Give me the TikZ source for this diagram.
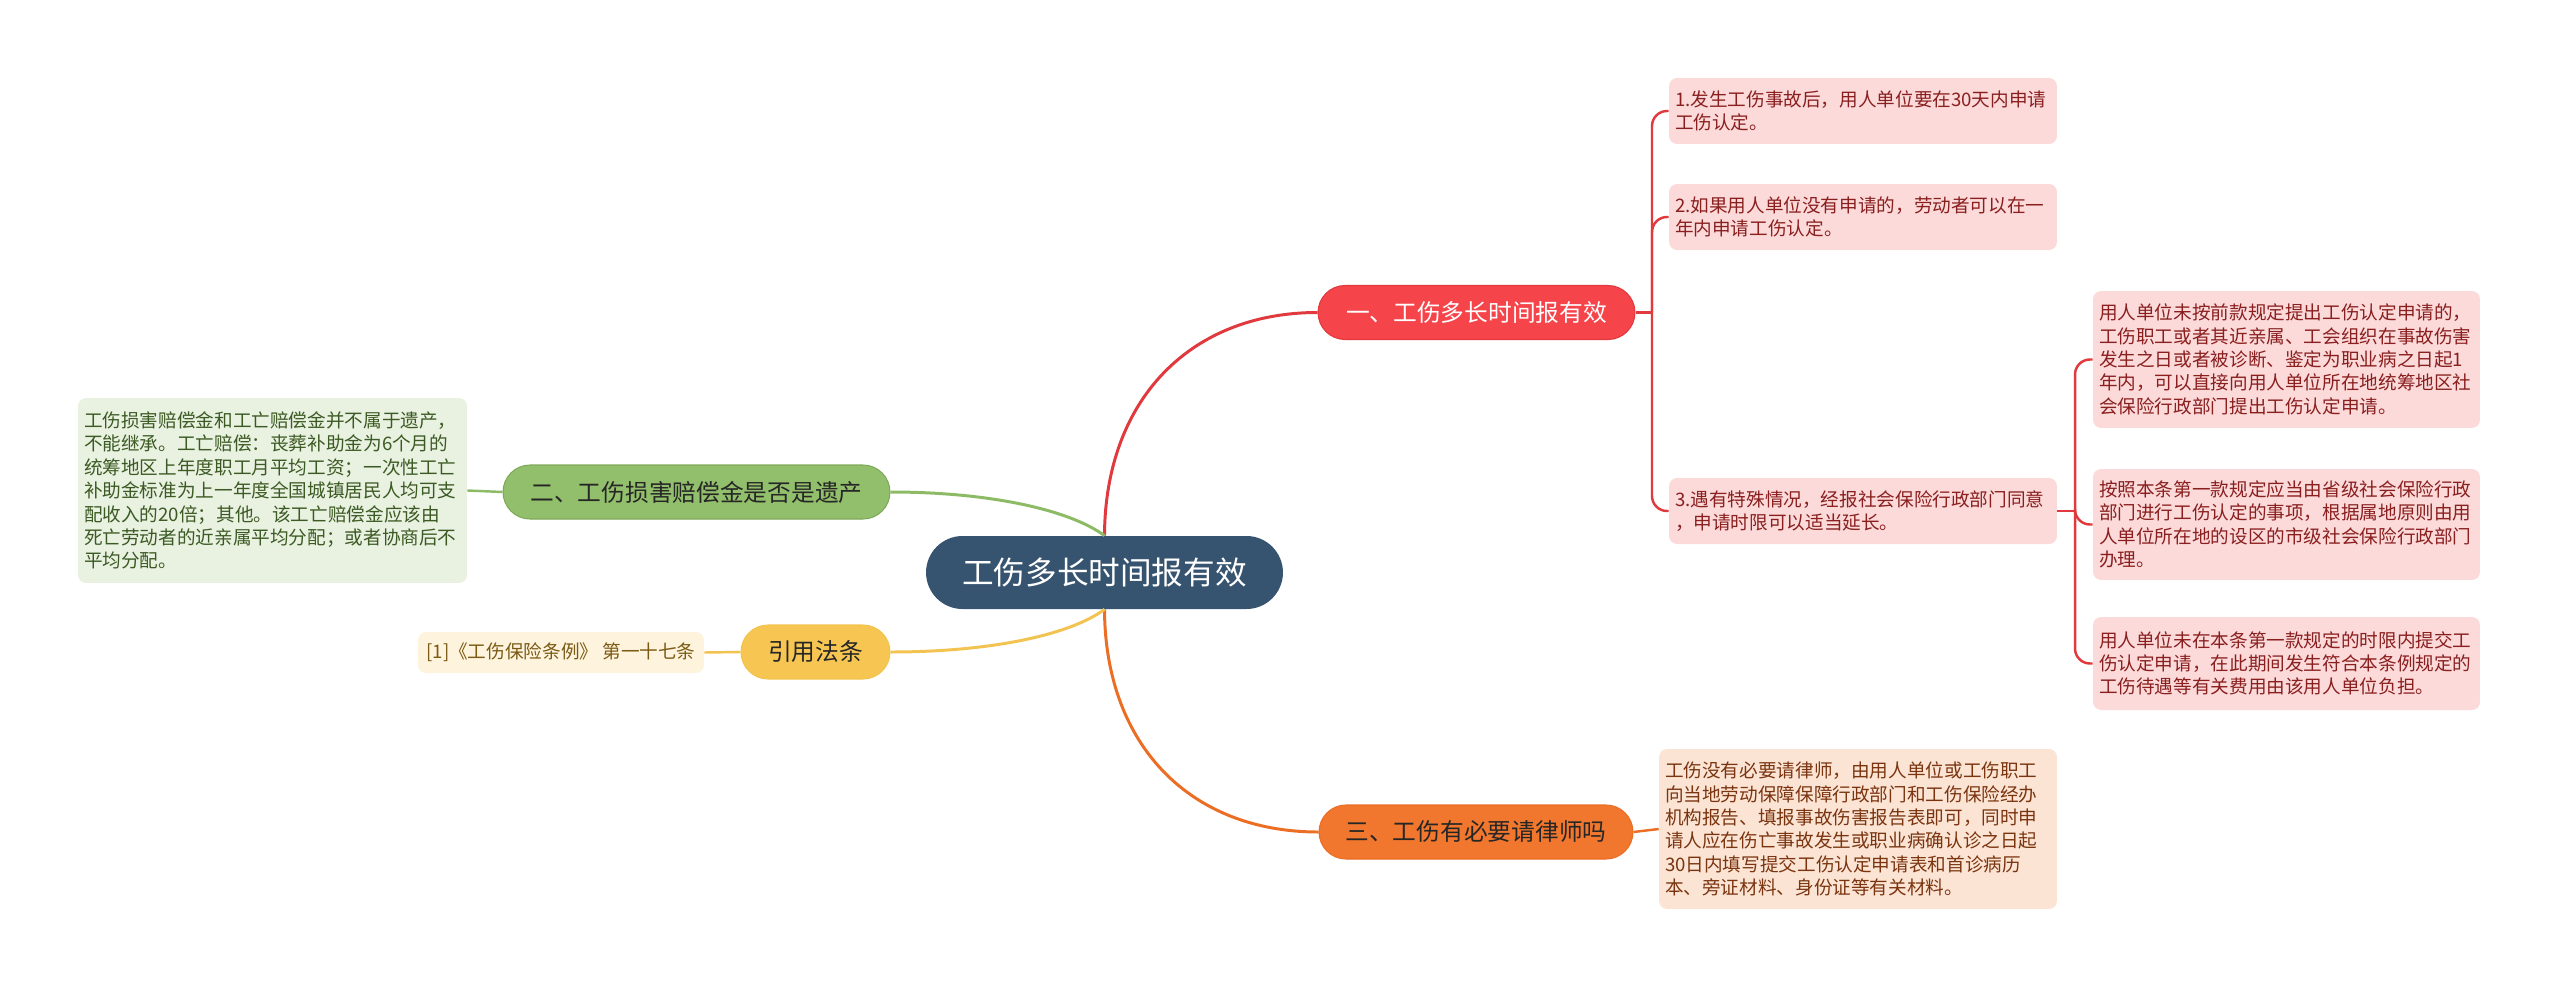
\documentclass[tikz,border=0pt]{standalone}
\usepackage{fontspec}
\setmainfont{Noto Sans CJK SC}
\usetikzlibrary{positioning}
\definecolor{rootSlate}{HTML}{36536F}
\definecolor{redMain}{HTML}{F5444A}
\definecolor{redLine}{HTML}{E0393E}
\definecolor{redLeaf}{HTML}{FCDADA}
\definecolor{redText}{HTML}{8A1F1F}
\definecolor{greenMain}{HTML}{92BF6B}
\definecolor{greenLine}{HTML}{8DBB65}
\definecolor{greenLeaf}{HTML}{E9F1E1}
\definecolor{greenText}{HTML}{3C5A23}
\definecolor{yellowMain}{HTML}{F7C652}
\definecolor{yellowLine}{HTML}{F2C350}
\definecolor{yellowLeaf}{HTML}{FEF3DC}
\definecolor{yellowText}{HTML}{7A5A14}
\definecolor{orangeMain}{HTML}{F0772D}
\definecolor{orangeLine}{HTML}{EB6E24}
\definecolor{orangeLeaf}{HTML}{FCE4D4}
\definecolor{orangeText}{HTML}{7A3510}
\tikzset{
  topic/.style={rounded corners=0.54cm, minimum height=1.08cm, inner sep=0pt,
                line width=0.6pt, font=\fontsize{13.5}{16}\selectfont},
  leaf/.style={rounded corners=0.16cm, inner xsep=0.12cm, inner ysep=0pt,
               align=left, font=\fontsize{10.6}{13.3}\selectfont},
  branch/.style={line width=1.7pt},
  twig/.style={line width=1.4pt}
}

\begin{document}
\begin{tikzpicture}[x=0.02cm, y=-0.02cm]
  \useasboundingbox (0,0) rectangle (2560,991);

  \node[fill=rootSlate, text=white, rounded corners=0.73cm, minimum width=7.14cm,
        minimum height=1.46cm, inner sep=0pt, font=\fontsize{18}{22}\selectfont]
        (root) at (1104.5,572.5) {工伤多长时间报有效};

  \node[topic, fill=redMain, draw=redLine, text=white, minimum width=6.34cm]
        (t1) at (1476.5,312.5) {一、工伤多长时间报有效};
  \node[topic, fill=greenMain, draw=greenLine!90!black, text=black!85, minimum width=7.74cm]
        (t2) at (696.5,492) {二、工伤损害赔偿金是否是遗产};
  \node[topic, fill=yellowMain, draw=yellowLine, text=black!85, minimum width=2.98cm]
        (t4) at (815.5,652) {引用法条};
  \node[topic, fill=orangeMain, draw=orangeLine, text=black!85, minimum width=6.28cm]
        (t3) at (1476,832) {三、工伤有必要请律师吗};

  \node[leaf, fill=redLeaf, text=redText, text width=7.52cm, minimum height=1.32cm]
        (l1) at (1863,111) {1.发生工伤事故后，用人单位要在30天内申请\\工伤认定。};
  \node[leaf, fill=redLeaf, text=redText, text width=7.52cm, minimum height=1.32cm]
        (l2) at (1863,217) {2.如果用人单位没有申请的，劳动者可以在一\\年内申请工伤认定。};
  \node[leaf, fill=redLeaf, text=redText, text width=7.52cm, minimum height=1.32cm]
        (l3) at (1863,511) {3.遇有特殊情况，经报社会保险行政部门同意\\，申请时限可以适当延长。};

  \node[leaf, fill=redLeaf, text=redText, text width=7.5cm, minimum height=2.74cm]
        (l3a) at (2286.5,359.5) {用人单位未按前款规定提出工伤认定申请的，\\工伤职工或者其近亲属、工会组织在事故伤害\\发生之日或者被诊断、鉴定为职业病之日起1\\年内，可以直接向用人单位所在地统筹地区社\\会保险行政部门提出工伤认定申请。};
  \node[leaf, fill=redLeaf, text=redText, text width=7.5cm, minimum height=2.22cm]
        (l3b) at (2286.5,524.5) {按照本条第一款规定应当由省级社会保险行政\\部门进行工伤认定的事项，根据属地原则由用\\人单位所在地的设区的市级社会保险行政部门\\办理。};
  \node[leaf, fill=redLeaf, text=redText, text width=7.5cm, minimum height=1.86cm]
        (l3c) at (2286.5,663.5) {用人单位未在本条第一款规定的时限内提交工\\伤认定申请，在此期间发生符合本条例规定的\\工伤待遇等有关费用由该用人单位负担。};

  \node[leaf, fill=greenLeaf, text=greenText, text width=7.54cm, minimum height=3.7cm]
        (lg) at (272.5,490.5) {工伤损害赔偿金和工亡赔偿金并不属于遗产，\\不能继承。工亡赔偿：丧葬补助金为6个月的\\统筹地区上年度职工月平均工资；一次性工亡\\补助金标准为上一年度全国城镇居民人均可支\\配收入的20倍；其他。该工亡赔偿金应该由\\死亡劳动者的近亲属平均分配；或者协商后不\\平均分配。};
  \node[leaf, fill=yellowLeaf, text=yellowText, minimum width=5.72cm, minimum height=0.82cm]
        (ly) at (561,652.5) {[1]《工伤保险条例》 第一十七条};
  \node[leaf, fill=orangeLeaf, text=orangeText, text width=7.72cm, minimum height=3.2cm]
        (lo) at (1858,829) {工伤没有必要请律师，由用人单位或工伤职工\\向当地劳动保障保障行政部门和工伤保险经办\\机构报告、填报事故伤害报告表即可，同时申\\请人应在伤亡事故发生或职业病确认诊之日起\\30日内填写提交工伤认定申请表和首诊病历\\本、旁证材料、身份证等有关材料。};

  \draw[branch, redLine] (root.north) .. controls (1105,400) and (1190,312.5) .. (t1.west);
  \draw[branch, orangeLine] (root.south) .. controls (1105,745) and (1190,832) .. (t3.west);
  \draw[branch, greenLine] (root.north) .. controls (1070,510) and (990,492) .. (t2.east);
  \draw[branch, yellowLine] (root.south) .. controls (1070,635) and (990,652) .. (t4.east);

  \coordinate (sp1) at (1652,312.5);
  \coordinate (sp2) at (2075,511);
  \draw[twig, redLine] (t1.east) -- (sp1);
  \foreach \l in {l1,l2,l3}
    \draw[twig, redLine, rounded corners=0.3cm] (sp1) |- (\l.west);
  \draw[twig, redLine] (l3.east) -- (sp2);
  \foreach \l in {l3a,l3b,l3c}
    \draw[twig, redLine, rounded corners=0.3cm] (sp2) |- (\l.west);
  \draw[twig, greenLine] (t2.west) -- (lg.east);
  \draw[twig, yellowLine] (t4.west) -- (ly.east);
  \draw[twig, orangeLine] (t3.east) -- (lo.west);
\end{tikzpicture}
\end{document}
